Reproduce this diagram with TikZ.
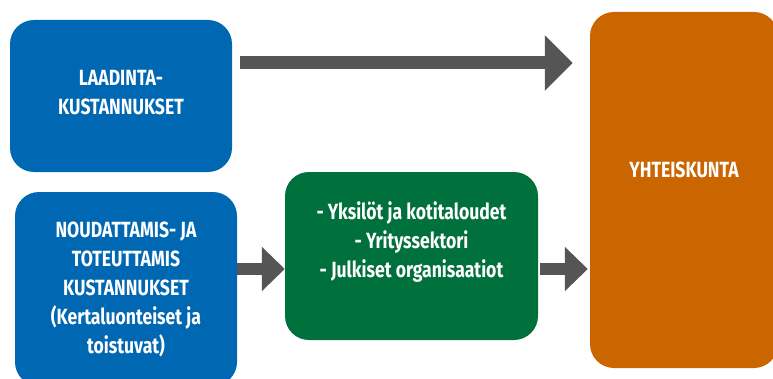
\documentclass[tikz,border=0pt]{standalone}
\usepackage{fontspec}
\setmainfont{Fira Sans}[FakeStretch=0.8]
\usepackage{tikz}
\usetikzlibrary{arrows.meta}

\definecolor{kblue}{HTML}{0067B2}
\definecolor{kgreen}{HTML}{00703C}
\definecolor{korange}{HTML}{CA6500}
\definecolor{kgray}{HTML}{555555}

\begin{document}
\begin{tikzpicture}[x=1pt,y=1pt,
   box/.style={rounded corners=24pt, inner sep=0pt},
   boxtext/.style={text=white, align=center, font=\fontsize{22}{29}\selectfont\bfseries},
   bigarrow/.style={draw=kgray, line width=13pt, -{Triangle[length=28pt,width=54pt,fill=kgray]}},
   smallarrow/.style={draw=kgray, line width=12pt, -{Triangle[length=23pt,width=43pt,fill=kgray]}}]
   \useasboundingbox (0,0) rectangle (773,378);
   \clip (0,0) rectangle (773,378);

   \node[box, fill=kblue,   minimum width=222pt, minimum height=152pt] (laad)   at (121,282)   {};
   \node[box, fill=kblue,   minimum width=222pt, minimum height=194pt] (nou)    at (126,89)    {};
   \node[box, fill=kgreen,  minimum width=253pt, minimum height=168pt] (gruppi) at (411.5,122) {};
   \node[box, fill=korange, minimum width=188pt, minimum height=356pt] (yht)    at (684,188)   {};

   \node[boxtext] (laadtxt)   at ([yshift=3pt]laad.center)    {LAADINTA-\\KUSTANNUKSET};
   \node[boxtext] (noutxt)    at (nou.center)                 {NOUDATTAMIS- JA\\TOTEUTTAMIS\\KUSTANNUKSET\\(Kertaluonteiset ja\\toistuvat)};
   \node[boxtext] (gruppitxt) at ([yshift=14pt]gruppi.center) {- Yksilöt ja kotitaloudet\\- Yrityssektori\\- Julkiset organisaatiot};
   \node[boxtext] (yhttxt)    at ([yshift=20pt]yht.center)    {YHTEISKUNTA};

   \coordinate (topstart) at ([shift={(8pt,33pt)}]laad.east);
   \coordinate (midstart) at ([yshift=20pt]nou.east);
   \coordinate (rightstart) at ([xshift=2pt]gruppi.east |- midstart);

   \draw[bigarrow]   (topstart)   -- ([xshift=-17pt]topstart -| yht.west);
   \draw[smallarrow] (midstart)   -- (midstart -| gruppi.west);
   \draw[smallarrow] (rightstart) -- ([xshift=-2pt]rightstart -| yht.west);
\end{tikzpicture}
\end{document}
